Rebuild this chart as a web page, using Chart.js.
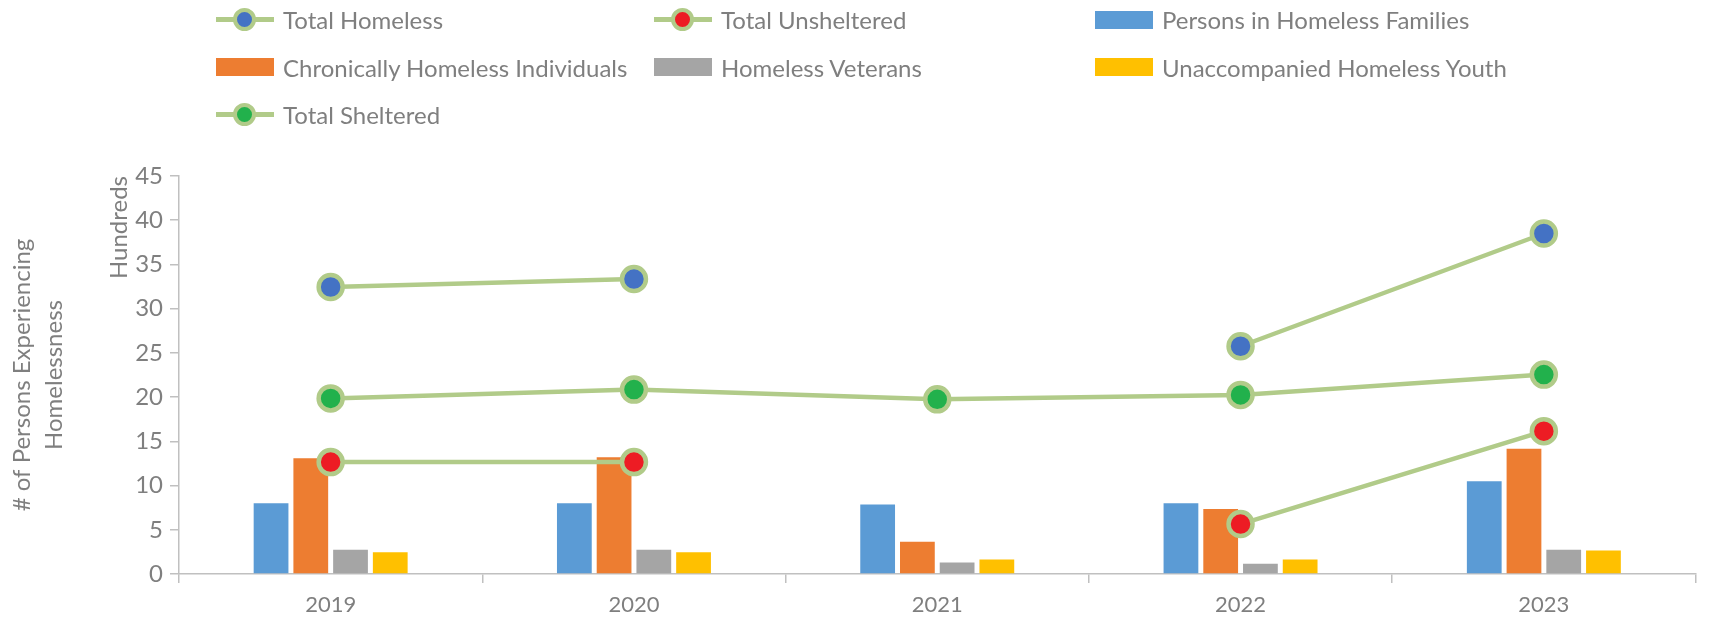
<!DOCTYPE html>
<html>
<head>
<meta charset="utf-8">
<script src="https://cdn.jsdelivr.net/npm/chart.js@4.4.1/dist/chart.umd.min.js"></script>
<style>
html, body { margin: 0; padding: 0; background: #fff; }
#wrap { position: relative; width: 1712px; height: 621px; }
#legend {
    position: absolute; left: 216px; top: -4px;
    display: grid; grid-template-columns: 438px 441px 440px; grid-auto-rows: 47.5px;
    font-family: Lato, sans-serif; font-size: 24px; color: #7f7f7f;
}
.item { display: flex; align-items: center; white-space: nowrap; }
.mk { position: relative; width: 58px; height: 24px; margin-right: 9px; flex: none; }
.mk .ln { position: absolute; left: 0; right: 0; top: 9.5px; height: 5px; }
.mk .dot { position: absolute; left: 17px; top: 0; width: 15px; height: 15px; border-radius: 50%; border: 4.5px solid; }
.mk .sw { position: absolute; left: 0; right: 0; top: 3px; height: 18px; }
</style>
</head>
<body>
<div id="wrap">
    <canvas id="chart"></canvas>
    <div id="legend"></div>
</div>
<script>
const years = ["2019", "2020", "2021", "2022", "2023"];
const totalHomeless = [32.45, 33.35, null, 25.75, 38.5];
const totalUnsheltered = [12.65, 12.65, null, 5.65, 16.15];
const familyPersons = [8.0, 8.0, 7.85, 8.0, 10.5];
const chronicIndividuals = [13.1, 13.2, 3.65, 7.35, 14.15];
const veterans = [2.75, 2.75, 1.3, 1.15, 2.75];
const youth = [2.45, 2.45, 1.65, 1.65, 2.65];
const totalSheltered = [19.85, 20.85, 19.75, 20.25, 22.55];

const lineGreen = "#B1CB89";
const grey = "#7f7f7f";
const axisGrey = "#C0C0C0";
const font = "Lato, sans-serif";

function lineSet(label, data, fill) {
    return {
        type: "line", label: label, data: data, order: 0,
        borderColor: lineGreen, borderWidth: 4.5,
        pointRadius: 12, pointHoverRadius: 12,
        pointBackgroundColor: fill, pointBorderColor: lineGreen, pointBorderWidth: 4.5,
    };
}
function barSet(label, data, color) {
    return { type: "bar", label: label, data: data, order: 1, backgroundColor: color };
}

const chart = new Chart(document.querySelector("#chart").getContext("2d"), {
    data: {
        labels: years,
        datasets: [
            lineSet("Total Homeless", totalHomeless, "#4472C4"),
            lineSet("Total Unsheltered", totalUnsheltered, "#ED1C24"),
            barSet("Persons in Homeless Families", familyPersons, "#5B9BD5"),
            barSet("Chronically Homeless Individuals", chronicIndividuals, "#ED7D31"),
            barSet("Homeless Veterans", veterans, "#A5A5A5"),
            barSet("Unaccompanied Homeless Youth", youth, "#FFC000"),
            lineSet("Total Sheltered", totalSheltered, "#22B14C"),
        ],
    },
    options: {
        responsive: true,
        maintainAspectRatio: false,
        animation: false,
        datasets: { bar: { categoryPercentage: 0.524, barPercentage: 0.875 } },
        layout: { padding: { top: 176, right: 7, bottom: 0, left: 0 } },
        plugins: { legend: { display: false }, tooltip: { enabled: false } },
        scales: {
            x: {
                grid: { display: true, offset: true, drawOnChartArea: false, tickLength: 9, color: axisGrey, lineWidth: 1.5 },
                border: { color: axisGrey, width: 1.5 },
                ticks: { color: grey, font: { family: font, size: 22 }, padding: 9 },
                afterFit: (s) => { s.height = 47; },
            },
            y: {
                min: 0, max: 45,
                grid: { drawOnChartArea: false, tickLength: 9, color: axisGrey, lineWidth: 1.5 },
                border: { color: axisGrey, width: 1.5 },
                ticks: { stepSize: 5, color: grey, font: { family: font, size: 24 }, padding: 7 },
                title: { display: true, text: "Hundreds", align: "end", color: grey, font: { family: font, size: 24 }, padding: 0 },
                afterFit: (s) => { s.width = 74; },
            },
            outer: {
                position: "left", weight: 1,
                grid: { display: false }, border: { display: false }, ticks: { display: false },
                title: {
                    display: true, text: ["# of Persons Experiencing", "Homelessness"], color: grey,
                    font: { family: font, size: 24, lineHeight: 1.33 }, padding: { top: 6, bottom: 0 },
                },
                afterFit: (s) => { s.width = 105; },
            },
        },
    },
});

const legend = document.querySelector("#legend");
chart.data.datasets.forEach((ds) => {
    const item = document.createElement("div");
    item.className = "item";
    const mk = document.createElement("span");
    mk.className = "mk";
    if (ds.type === "line") {
        mk.innerHTML = '<span class="ln" style="background:' + lineGreen + '"></span>' +
            '<span class="dot" style="background:' + ds.pointBackgroundColor + ';border-color:' + lineGreen + '"></span>';
    } else {
        mk.innerHTML = '<span class="sw" style="background:' + ds.backgroundColor + '"></span>';
    }
    const txt = document.createElement("span");
    txt.textContent = ds.label;
    item.appendChild(mk);
    item.appendChild(txt);
    legend.appendChild(item);
});
</script>
</body>
</html>
